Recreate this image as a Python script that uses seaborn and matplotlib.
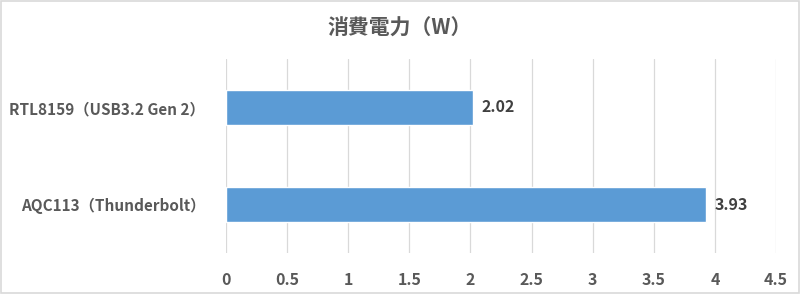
import matplotlib
matplotlib.use("Agg")
import matplotlib.pyplot as plt
import seaborn as sns
import pandas as pd
from matplotlib.patches import Rectangle

categories = ["RTL8159（USB3.2 Gen 2）", "AQC113（Thunderbolt）"]
values = [2.02, 3.93]
xticks = [0, 0.5, 1, 1.5, 2, 2.5, 3, 3.5, 4, 4.5]
xtick_labels = ["0", "0.5", "1", "1.5", "2", "2.5", "3", "3.5", "4", "4.5"]
title = "消費電力（W）"

sns.set_theme(style="white")
plt.rcParams['font.family'] = ['Noto Sans CJK JP', 'DejaVu Sans']

df = pd.DataFrame({"cat": categories, "val": values})

fig = plt.figure(figsize=(8, 2.94), dpi=100)
ax = fig.add_axes([226/800, 1-253/294, 550/800, 194/294])

sns.barplot(data=df, x="val", y="cat", color="#5B9BD5", width=0.37, ax=ax,
            saturation=1, zorder=3)

ax.set_xlim(0, 4.5)
ax.set_ylim(1.5, -0.5)
ax.set_xticks(xticks)
ax.set_xticklabels(xtick_labels)
ax.set_xlabel("")
ax.set_ylabel("")
for s in ax.spines.values():
    s.set_visible(False)
ax.grid(axis="x", color="#D9D9D9", linewidth=0.9, zorder=0)
ax.grid(axis="y", visible=False)
ax.tick_params(axis="x", length=0, pad=14, labelsize=11.5, labelcolor="#595959")
ax.tick_params(axis="y", length=0, pad=15, labelsize=11, labelcolor="#595959")
for lbl in ax.get_xticklabels() + ax.get_yticklabels():
    lbl.set_fontweight("bold")

for cont in ax.containers:
    ax.bar_label(cont, labels=[f"{v:.2f}" for v in values], padding=6,
                 fontsize=11.5, fontweight="bold", color="#404040")

fig.text(0.5, 1-28/294, title, ha="center", va="center", fontsize=15,
         color="#595959", fontweight="bold")

fig.patches.append(Rectangle((0.001, 0.002), 0.998, 0.996, transform=fig.transFigure,
                             fill=False, edgecolor="#D9D9D9", linewidth=1.2))

fig.savefig("out.png", dpi=100)
